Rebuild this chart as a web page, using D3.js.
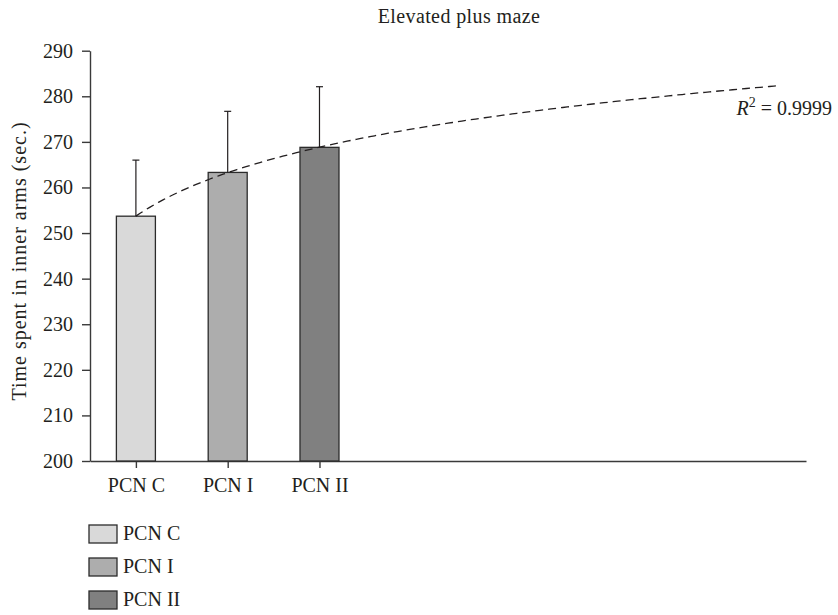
<!DOCTYPE html>
<html>
<head>
<meta charset="utf-8">
<script src="https://cdn.jsdelivr.net/npm/d3@7"></script>
<style>
  body { margin: 0; background: #fff; }
  text { font-family: "Liberation Serif", "Times New Roman", serif; fill: #231f20; }
</style>
</head>
<body>
<div id="chart"></div>
<script>
// chart values
var categories = ["PCN C", "PCN I", "PCN II"];
var means = [253.7, 263.3, 268.8];
var errors = [12.3, 13.4, 13.3];
var colors = ["#d9d9d9", "#adadad", "#808080"];
var yTicks = [200, 210, 220, 230, 240, 250, 260, 270, 280, 290];
var rSquared = "0.9999";

var width = 838, height = 615;
var margin = {left: 90, right: 806, top: 50.7, bottom: 461};
var fontSize = 20;
var axisColor = "#3a3a3a";

var svg = d3.select("#chart").append("svg")
    .attr("width", width)
    .attr("height", height);

// bars sit at x = 1,2,3 (like the spreadsheet trend uses), axis runs on to leave room for the trend
var x = d3.scaleLinear().domain([0.5, 8.3]).range([margin.left, margin.right]);
var y = d3.scaleLinear().domain([200, 290]).range([margin.bottom, margin.top]);
var barW = (x(2) - x(1)) * 0.425;

// title
svg.append("text")
    .attr("x", 459)
    .attr("y", 23)
    .attr("text-anchor", "middle")
    .style("font-size", fontSize + "px")
    .style("letter-spacing", "0.4px")
    .text("Elevated plus maze");

// y axis
var yAxis = svg.append("g")
    .attr("transform", "translate(" + margin.left + ",0)")
    .call(d3.axisLeft(y).tickValues(yTicks).tickSize(8).tickSizeOuter(0).tickPadding(9));

// x axis
var xAxis = svg.append("g")
    .attr("transform", "translate(0," + margin.bottom + ")")
    .call(d3.axisBottom(x)
        .tickValues(d3.range(1, categories.length + 1))
        .tickFormat(function (d) { return categories[d - 1]; })
        .tickSize(7).tickSizeOuter(0).tickPadding(9.5));

[yAxis, xAxis].forEach(function (g) {
    g.select(".domain").attr("stroke", axisColor).attr("stroke-width", 1.4);
    g.selectAll(".tick line").attr("stroke", axisColor).attr("stroke-width", 1.4);
    g.selectAll(".tick text")
        .style("font-family", '"Liberation Serif", "Times New Roman", serif')
        .style("font-size", fontSize + "px")
        .attr("fill", "#231f20");
});

// y axis title
svg.append("text")
    .attr("transform", "translate(26,261) rotate(-90)")
    .attr("text-anchor", "middle")
    .style("font-size", fontSize + "px")
    .style("letter-spacing", "1px")
    .text("Time spent in inner arms (sec.)");

// bars
svg.selectAll("rect.bar")
    .data(means)
    .enter()
    .append("rect")
    .attr("class", "bar")
    .attr("x", function (d, i) { return x(i + 1) - barW / 2; })
    .attr("y", function (d) { return y(d); })
    .attr("width", barW)
    .attr("height", function (d) { return y(200) - y(d); })
    .attr("fill", function (d, i) { return colors[i]; })
    .attr("stroke", "#2b2b2b")
    .attr("stroke-width", 1.3);

// upper error bars only
var err = svg.selectAll("g.err")
    .data(means)
    .enter()
    .append("g")
    .attr("class", "err")
    .attr("stroke", "#231f20")
    .attr("stroke-width", 1.2);

err.append("line")
    .attr("x1", function (d, i) { return x(i + 1); })
    .attr("x2", function (d, i) { return x(i + 1); })
    .attr("y1", function (d) { return y(d); })
    .attr("y2", function (d, i) { return y(d + errors[i]); });

err.append("line")
    .attr("x1", function (d, i) { return x(i + 1) - 3.5; })
    .attr("x2", function (d, i) { return x(i + 1) + 3.5; })
    .attr("y1", function (d, i) { return y(d + errors[i]); })
    .attr("y2", function (d, i) { return y(d + errors[i]); });

// logarithmic trend line fitted to the bar means, extended forward
var lx = means.map(function (d, i) { return Math.log(i + 1); });
var mx = d3.mean(lx), my = d3.mean(means);
var slope = d3.sum(lx, function (v, i) { return (v - mx) * (means[i] - my); }) /
            d3.sum(lx, function (v) { return (v - mx) * (v - mx); });
var icpt = my - slope * mx;

var trend = d3.range(1, 8.001, 0.05).map(function (t) {
    return [t, icpt + slope * Math.log(t)];
});

svg.append("path")
    .datum(trend)
    .attr("fill", "none")
    .attr("stroke", "#231f20")
    .attr("stroke-width", 1.3)
    .attr("stroke-dasharray", "8,5")
    .attr("d", d3.line()
        .x(function (d) { return x(d[0]); })
        .y(function (d) { return y(d[1]); }));

var r2 = svg.append("text")
    .attr("x", 832)
    .attr("y", 115)
    .attr("text-anchor", "end")
    .style("font-size", fontSize + "px");
r2.append("tspan").style("font-style", "italic").text("R");
r2.append("tspan").attr("dy", -8).style("font-size", "14px").text("2");
r2.append("tspan").attr("dy", 8).text(" = " + rSquared);

// legend
var legend = svg.selectAll("g.legend")
    .data(categories)
    .enter()
    .append("g")
    .attr("class", "legend")
    .attr("transform", function (d, i) { return "translate(89," + (525 + i * 33) + ")"; });

legend.append("rect")
    .attr("width", 28)
    .attr("height", 18)
    .attr("fill", function (d, i) { return colors[i]; })
    .attr("stroke", "#2b2b2b")
    .attr("stroke-width", 1.3);

legend.append("text")
    .attr("x", 34)
    .attr("y", 15)
    .style("font-size", fontSize + "px")
    .text(function (d) { return d; });
</script>
</body>
</html>
